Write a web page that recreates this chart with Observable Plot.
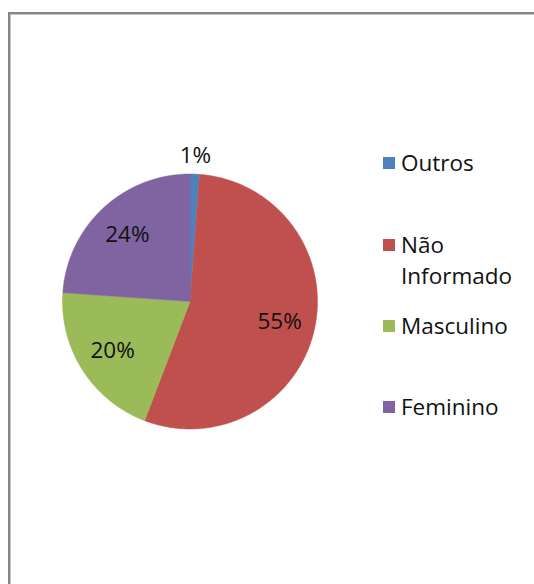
<!DOCTYPE html>
<html>
<head>
<meta charset="utf-8">
<script src="https://cdn.jsdelivr.net/npm/d3@7"></script>
<script src="https://cdn.jsdelivr.net/npm/@observablehq/plot@0.6"></script>
<style>
  html, body { margin: 0; padding: 0; background: #fff; }
  #wrap { position: relative; width: 534px; height: 584px; overflow: hidden; background: #fff; }
  #frame { position: absolute; left: 8px; top: 12px; width: 600px; height: 650px;
           border-left: 2px solid #858585; border-top: 2px solid #858585;
           box-shadow: inset 1px 1px 0 #c6c6c6; }
  #chart { position: absolute; left: 0; top: 0; }
  .leg { position: absolute; font-family: "Open Sans", Lato, sans-serif; font-size: 22.5px; color: #111; line-height: 31px; }
  .sw { position: absolute; width: 12px; height: 12px; }
</style>
</head>
<body>
<div id="wrap">
  <div id="frame"></div>
  <div id="chart"></div>
  <div id="legend"></div>
</div>
<script>
const categories = ["Outros", "Não Informado", "Masculino", "Feminino"];
const legendLines = [["Outros"], ["Não", "Informado"], ["Masculino"], ["Feminino"]];
const values = [1.2, 54.6, 20.3, 23.9];
const labels = ["1%", "55%", "20%", "24%"];
const colors = ["#4F81BD", "#C0504D", "#9BBB59", "#8064A2"];

const W = 534, H = 584;
const cx = 189.5, cy = 301, R = 127.5;

const arcs = d3.pie().sort(null).value(d => d)(values);

const poly = [];
arcs.forEach((a, i) => {
  const cat = categories[i];
  poly.push({cat, x: 0, y: 0});
  const n = Math.max(4, Math.ceil((a.endAngle - a.startAngle) / 0.01));
  for (let k = 0; k <= n; k++) {
    const t = a.startAngle + (a.endAngle - a.startAngle) * k / n;
    poly.push({cat, x: Math.sin(t), y: Math.cos(t)});
  }
});

const labelData = arcs.map((a, i) => {
  const m = (a.startAngle + a.endAngle) / 2;
  const r = values[i] < 5 ? 1.14 : 0.72;
  return {label: labels[i], x: r * Math.sin(m), y: r * Math.cos(m)};
});

const plot = Plot.plot({
  width: W, height: H,
  margin: 0,
  style: {background: "transparent", overflow: "visible"},
  x: {domain: [-1, 1], range: [cx - R, cx + R], axis: null},
  y: {domain: [-1, 1], range: [cy + R, cy - R], axis: null},
  color: {domain: categories, range: colors},
  marks: [
    Plot.line(poly, {x: "x", y: "y", z: "cat", fill: "cat", stroke: "cat", strokeWidth: 0.5, curve: "linear-closed"}),
    Plot.text(labelData, {x: "x", y: "y", text: "label", fontSize: 22.5, fill: "#111",
      fontFamily: "'Open Sans', Lato, sans-serif", textAnchor: "middle", lineAnchor: "middle"})
  ]
});
document.getElementById("chart").appendChild(plot);

const legY = [163, 245, 326, 407];
const leg = document.getElementById("legend");
categories.forEach((c, i) => {
  const sw = document.createElement("div");
  sw.className = "sw";
  sw.style.left = "383px";
  sw.style.top = (legY[i] - 6) + "px";
  sw.style.background = colors[i];
  leg.appendChild(sw);
  const t = document.createElement("div");
  t.className = "leg";
  t.style.left = "401px";
  t.style.top = (legY[i] - 16.5) + "px";
  t.innerHTML = legendLines[i].join("<br>");
  leg.appendChild(t);
});
</script>
</body>
</html>
